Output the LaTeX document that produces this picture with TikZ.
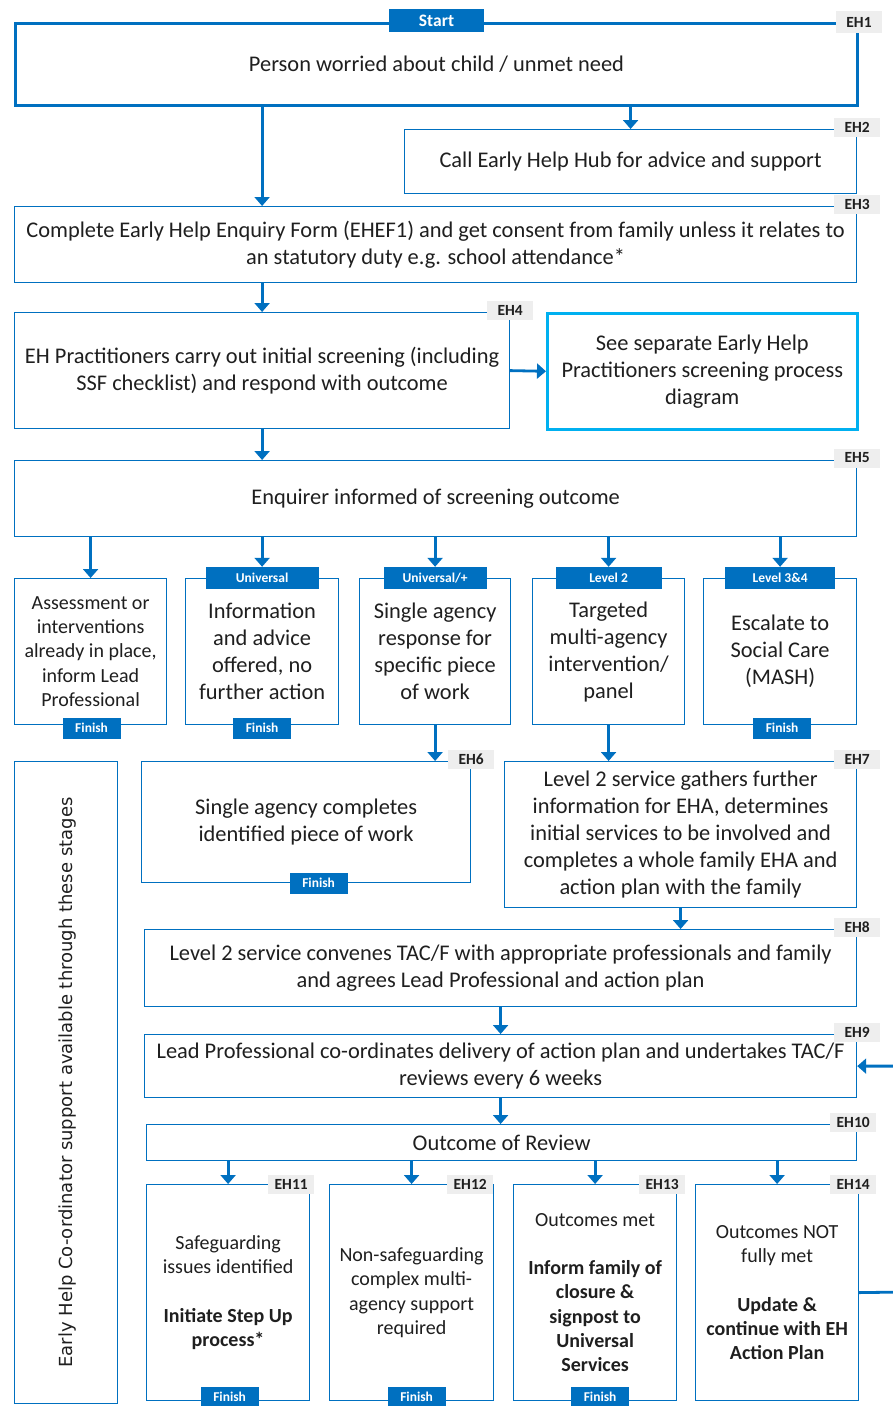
\documentclass[tikz,border=0pt]{standalone}
\usepackage{fontspec}
\setmainfont{Carlito}
\newfontfamily\sidebarfont{DejaVu Sans}
\usetikzlibrary{arrows.meta}
\definecolor{ehblue}{HTML}{0070C0}
\definecolor{ehcyan}{HTML}{00B0F0}
\definecolor{ehgrey}{HTML}{EEEEEE}
\definecolor{ehtext}{HTML}{1F1F1F}
\newcommand{\bodysize}{\fontsize{22.4}{27}\selectfont}
\newcommand{\smallsize}{\fontsize{20}{24.2}\selectfont}
\tikzset{
  stage/.style      = {shape=rectangle, draw=ehblue, line width=1.2pt,
                       fill=white, anchor=north west, align=center,
                       inner sep=2pt, text=ehtext, font=\bodysize},
  firststage/.style = {stage, line width=3pt},
  linkstage/.style  = {stage, draw=ehcyan, line width=2.6pt},
  option/.style     = {stage, minimum width=152pt, minimum height=146pt},
  outcome/.style    = {stage, minimum width=163pt, minimum height=216pt,
                       font=\smallsize},
  band/.style       = {fill=ehblue, text=white, inner sep=0pt,
                       minimum width=106pt, minimum height=22pt,
                       font=\bfseries\fontsize{13.5}{14}\selectfont},
  finish/.style     = {band, minimum width=58pt, minimum height=21pt},
  ehtag/.style      = {fill=ehgrey, text=ehtext, inner xsep=4pt, inner ysep=0pt,
                       minimum width=46pt, minimum height=19pt,
                       font=\bfseries\fontsize{15.5}{16}\selectfont},
  flow/.style       = {draw=ehblue, line width=2.8pt,
                       -{Triangle[width=15pt,length=9pt]}}
}

\begin{document}
\begin{tikzpicture}[x=1pt,y=-1pt]
  \useasboundingbox (0,0) rectangle (892,1406);

  % enquiry and screening
  \node[firststage, minimum width=842pt, minimum height=82pt] (eh1) at (14,22)
    {Person worried about child / unmet need};
  \node[stage, minimum width=452pt, minimum height=64pt] (eh2) at (404,129)
    {Call Early Help Hub for advice and support};
  \node[stage, minimum width=842pt, minimum height=76pt] (eh3) at (14,206)
    {Complete Early Help Enquiry Form (EHEF1) and get consent from family unless it relates to\\
     an statutory duty e.g. school attendance*};
  \node[stage, minimum width=495pt, minimum height=116pt] (eh4) at (14,312)
    {EH Practitioners carry out initial screening (including\\
     SSF checklist) and respond with outcome};
  \node[linkstage, minimum width=310pt, minimum height=116pt] (screening) at (546,312)
    {See separate Early Help\\ Practitioners screening process\\ diagram};
  \node[stage, minimum width=842pt, minimum height=76pt] (eh5) at (14,460)
    {Enquirer informed of screening outcome};

  % screening outcomes
  \node[option, font=\smallsize] (opt1) at (14,578)
    {Assessment or\\ interventions\\ already in place,\\ inform Lead\\ Professional};
  \node[option, minimum width=153pt] (opt2) at (185,578)
    {Information\\ and advice\\ offered, no\\ further action};
  \node[option, minimum width=151pt] (opt3) at (359,578)
    {Single agency\\ response for\\ specific piece\\ of work};
  \node[option] (opt4) at (532,578)
    {Targeted\\ multi-agency\\ intervention/\\ panel};
  \node[option, minimum width=153pt] (opt5) at (703,578)
    {Escalate to\\ Social Care\\ (MASH)};

  % support
  \node[stage, minimum width=103pt, minimum height=642pt] (coordinator) at (14,761) {};
  \node[rotate=90, text=ehtext, font=\sidebarfont\fontsize{18}{20}\selectfont]
    (coordinatortext) at ([xshift=1.5pt]coordinator.center)
    {Early Help Co-ordinator support available through these stages};
  \node[stage, minimum width=329pt, minimum height=121pt] (eh6) at (141,761)
    {Single agency completes\\ identified piece of work};
  \node[stage, minimum width=352pt, minimum height=146pt] (eh7) at (504,761)
    {Level 2 service gathers further\\ information for EHA, determines\\
     initial services to be involved and\\ completes a whole family EHA and\\
     action plan with the family};
  \node[stage, minimum width=712pt, minimum height=77pt] (eh8) at (144,929)
    {Level 2 service convenes TAC/F with appropriate professionals and family\\
     and agrees Lead Professional and action plan};
  \node[stage, minimum width=712pt, minimum height=63pt] (eh9) at (144,1034)
    {Lead Professional co-ordinates delivery of action plan and undertakes TAC/F\\
     reviews every 6 weeks};
  \node[stage, minimum width=710pt, minimum height=36pt] (eh10) at (146,1124)
    {Outcome of Review};

  % review outcomes
  \node[outcome] (out1) at (146,1184)
    {Safeguarding\\ issues identified\\[24pt]
     \textbf{Initiate Step Up}\\ \textbf{process*}};
  \node[outcome, minimum width=164pt] (out2) at (329,1184)
    {Non-safeguarding\\ complex multi-\\ agency support\\ required};
  \node[outcome] (out3) at (513,1184)
    {Outcomes met\\[24pt] \textbf{Inform family of}\\ \textbf{closure \&}\\
     \textbf{signpost to}\\ \textbf{Universal}\\ \textbf{Services}};
  \node[outcome] (out4) at (695,1184)
    {Outcomes NOT\\ fully met\\[24pt] \textbf{Update \&}\\
     \textbf{continue with EH}\\ \textbf{Action Plan}};

  % bands
  \node[band, minimum width=95pt, minimum height=23pt, font=\bfseries\fontsize{17.5}{18}\selectfont]
    (start) at ([yshift=1.5pt]eh1.north) {Start};
  \node[band, minimum width=113pt] (band2) at (opt2.north) {Universal};
  \node[band, minimum width=103pt] (band3) at (opt3.north) {Universal/+};
  \node[band] (band4) at (opt4.north) {Level 2};
  \node[band, minimum width=110pt] (band5) at (opt5.north) {Level 3\&4};
  \foreach \n/\dx in {opt1/1, opt2/0, opt5/2} {
    \node[finish] (\n finish) at ([xshift=\dx pt, yshift=-3pt]\n.south) {Finish};
  }
  \node[finish] (eh6finish) at ([xshift=12.5pt]eh6.south) {Finish};
  \foreach \n/\dx in {out1/1.5, out2/5, out3/5} {
    \node[finish] (\n finish) at ([xshift=\dx pt, yshift=4pt]\n.south) {Finish};
  }

  % tags
  \node[ehtag, minimum height=22pt] (eh1tag) at (eh1.north east) {EH1};
  \foreach \n/\t in {eh2/EH2, eh3/EH3, eh4/EH4, eh5/EH5, eh6/EH6, eh7/EH7, eh8/EH8, eh9/EH9} {
    \node[ehtag] (\n tag) at ([yshift=2pt]\n.north east) {\t};
  }
  \node[ehtag] (eh10tag) at ([xshift=-4pt, yshift=2pt]eh10.north east) {EH10};
  \foreach \n/\t/\dx in {out1/EH11/-19, out2/EH12/-24, out3/EH13/-15, out4/EH14/-6} {
    \node[ehtag] (\n tag) at ([xshift=\dx pt]\n.north east) {\t};
  }

  % connectors
  \draw[flow] (eh4.north |- eh1.south) -- (eh4.north |- eh3.north);
  \draw[flow] (eh2.north |- eh1.south) -- (eh2.north);
  \draw[flow] (eh4.north |- eh3.south) -- (eh4.north);
  \draw[flow] (eh4.east) -- (screening.west);
  \draw[flow] (eh4.south) -- (eh4.south |- eh5.north);
  \draw[flow] (opt1.north |- eh5.south) -- (opt1.north);
  \foreach \k in {2,...,5} {
    \draw[flow] (band\k.north |- eh5.south) -- (band\k.north);
  }
  \draw[flow] (opt3.south) -- (opt3.south |- eh6.north);
  \draw[flow] (opt4.south) -- (opt4.south |- eh7.north);
  \draw[flow] (eh7.south) -- (eh7.south |- eh8.north);
  \draw[flow] (eh8.south) -- (eh8.south |- eh9.north);
  \draw[flow] (eh9.south) -- (eh9.south |- eh10.north);
  \foreach \k in {1,...,4} {
    \draw[flow] (out\k.north |- eh10.south) -- (out\k.north);
  }
  \coordinate (loopback) at (905,1292);
  \draw[flow] (out4.east) -- (loopback) |- (eh9.east);
\end{tikzpicture}
\end{document}
